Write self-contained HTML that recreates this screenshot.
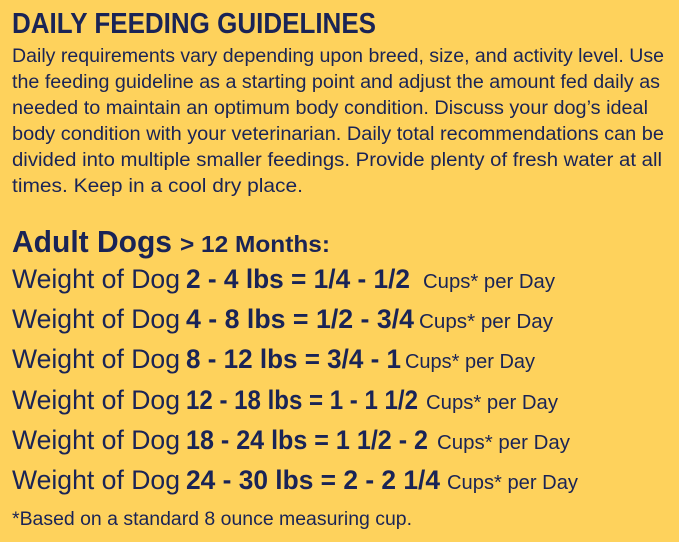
<!DOCTYPE html>
<html><head><style>
html,body{margin:0;padding:0;background:#fed25c;}
svg{display:block;}
text{font-family:"Liberation Sans Narrow","Liberation Sans",sans-serif;fill:#1a2456;}
.b{font-weight:bold;}
</style></head><body>
<svg width="679" height="542" viewBox="0 0 679 542" xmlns="http://www.w3.org/2000/svg">
<rect width="679" height="542" fill="#fed25c"/>
<text class="b" x="12" y="33" font-size="29" textLength="364" lengthAdjust="spacingAndGlyphs">DAILY FEEDING GUIDELINES</text>
<g font-size="19">
<text x="12" y="62" textLength="652" lengthAdjust="spacingAndGlyphs">Daily requirements vary depending upon breed, size, and activity level. Use</text>
<text x="12" y="88" textLength="648" lengthAdjust="spacingAndGlyphs">the feeding guideline as a starting point and adjust the amount fed daily as</text>
<text x="12" y="114" textLength="636" lengthAdjust="spacingAndGlyphs">needed to maintain an optimum body condition. Discuss your dog’s ideal</text>
<text x="12" y="140" textLength="652" lengthAdjust="spacingAndGlyphs">body condition with your veterinarian. Daily total recommendations can be</text>
<text x="12" y="166" textLength="650" lengthAdjust="spacingAndGlyphs">divided into multiple smaller feedings. Provide plenty of fresh water at all</text>
<text x="12" y="192" textLength="291" lengthAdjust="spacingAndGlyphs">times. Keep in a cool dry place.</text>
</g>
<text class="b" x="12" y="252" font-size="31" textLength="160" lengthAdjust="spacingAndGlyphs">Adult Dogs</text>
<text class="b" x="180" y="252" font-size="23" textLength="150" lengthAdjust="spacingAndGlyphs">&gt; 12 Months:</text>
<g font-size="27">
<text x="12" y="288" textLength="168" lengthAdjust="spacingAndGlyphs">Weight of Dog</text>
<text x="12" y="328" textLength="168" lengthAdjust="spacingAndGlyphs">Weight of Dog</text>
<text x="12" y="368" textLength="168" lengthAdjust="spacingAndGlyphs">Weight of Dog</text>
<text x="12" y="409" textLength="168" lengthAdjust="spacingAndGlyphs">Weight of Dog</text>
<text x="12" y="449" textLength="168" lengthAdjust="spacingAndGlyphs">Weight of Dog</text>
<text x="12" y="489" textLength="168" lengthAdjust="spacingAndGlyphs">Weight of Dog</text>
<text class="b" x="186" y="288" textLength="224" lengthAdjust="spacingAndGlyphs">2 - 4 lbs = 1/4 - 1/2</text>
<text class="b" x="186" y="328" textLength="228" lengthAdjust="spacingAndGlyphs">4 - 8 lbs = 1/2 - 3/4</text>
<text class="b" x="186" y="368" textLength="215" lengthAdjust="spacingAndGlyphs">8 - 12 lbs = 3/4 - 1</text>
<text class="b" x="186" y="409" textLength="232" lengthAdjust="spacingAndGlyphs">12 - 18 lbs = 1 - 1 1/2</text>
<text class="b" x="186" y="449" textLength="242" lengthAdjust="spacingAndGlyphs">18 - 24 lbs = 1 1/2 - 2</text>
<text class="b" x="186" y="489" textLength="254" lengthAdjust="spacingAndGlyphs">24 - 30 lbs = 2 - 2 1/4</text>
</g>
<g font-size="20">
<text x="423" y="288" textLength="132" lengthAdjust="spacingAndGlyphs">Cups* per Day</text>
<text x="419" y="328" textLength="134" lengthAdjust="spacingAndGlyphs">Cups* per Day</text>
<text x="405" y="368" textLength="130" lengthAdjust="spacingAndGlyphs">Cups* per Day</text>
<text x="426" y="409" textLength="132" lengthAdjust="spacingAndGlyphs">Cups* per Day</text>
<text x="437" y="449" textLength="133" lengthAdjust="spacingAndGlyphs">Cups* per Day</text>
<text x="447" y="489" textLength="131" lengthAdjust="spacingAndGlyphs">Cups* per Day</text>
</g>
<text x="12" y="525" font-size="19" textLength="400" lengthAdjust="spacingAndGlyphs">*Based on a standard 8 ounce measuring cup.</text>
</svg>
</body></html>
